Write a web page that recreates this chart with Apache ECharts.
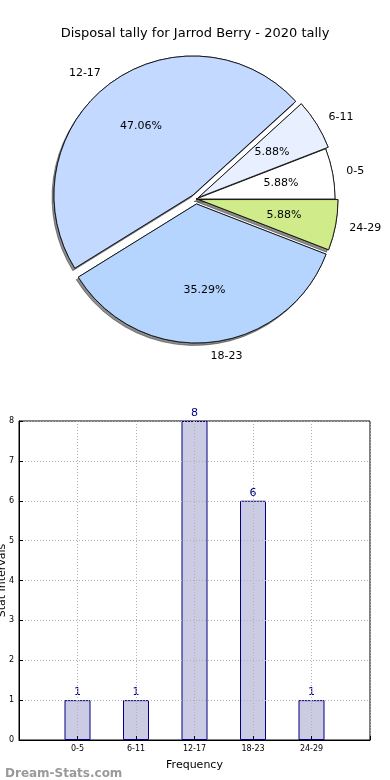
<!DOCTYPE html>
<html><head><meta charset="utf-8">
<script src="https://cdn.jsdelivr.net/npm/echarts@6/dist/echarts.min.js"></script>
<style>html,body{margin:0;padding:0;background:#fff}#c{width:390px;height:780px}</style>
</head><body><div id="c"></div>
<script>
const categories = ['0-5', '6-11', '12-17', '18-23', '24-29'];
const counts = [1, 1, 8, 6, 1];
const sliceColors = ['#ffffff', '#e8f0ff', '#c4d9ff', '#b5d5ff', '#cfeb8a'];
const explode = [0, 3, 5, 5, 3];
const yTicks = [0, 1, 2, 3, 4, 5, 6, 7, 8];
const titleText = 'Disposal tally for Jarrod Berry - 2020 tally';

const FONT = 'DejaVu Sans';
const C = ['196', '199'];
const R = 139;
const total = counts.reduce((a, b) => a + b, 0);

function sliceData(i, visStyle, labelOpt) {
  return counts.map((v, j) => {
    if (j !== i) return { name: categories[j], value: v, itemStyle: { color: 'transparent', borderWidth: 0 }, label: { show: false }, labelLine: { show: false } };
    return { name: categories[j], value: v, selected: explode[i] > 0, itemStyle: visStyle, label: labelOpt, labelLine: { show: false, length: R * 0.1, length2: 0 } };
  });
}
const base = { type: 'pie', center: C, startAngle: 0, clockwise: false, silent: true, animation: false,
  avoidLabelOverlap: false, selectedMode: 'multiple', emphasis: { disabled: true }, minAngle: 0 };
const series = [];
// shadows
categories.forEach((c, i) => {
  series.push(Object.assign({}, base, { z: 1, radius: [0, R], selectedOffset: explode[i],
    data: sliceData(i, { color: sliceColors[i], borderColor: '#000', borderWidth: 0.8, shadowBlur: 0, shadowOffsetX: -2, shadowOffsetY: 2.5, shadowColor: 'rgba(0,0,0,0.45)' }, { show: false }) }));
});
// fills + outside labels
categories.forEach((c, i) => {
  series.push(Object.assign({}, base, { z: 2, radius: [0, R], selectedOffset: explode[i],
    data: sliceData(i, { color: sliceColors[i], borderColor: '#000', borderWidth: 0.8 },
      { show: true, position: 'outside', formatter: '{b}', fontFamily: FONT, fontSize: 11, color: '#000', distanceToLabelLine: 0 }),
    labelLine: { show: false, length: R * 0.1, length2: 0 } }));
});
// inside percentage labels
categories.forEach((c, i) => {
  series.push(Object.assign({}, base, { z: 3, radius: [R * 0.2, R], selectedOffset: explode[i],
    data: sliceData(i, { color: 'transparent', borderWidth: 0 },
      { show: true, position: 'inside', formatter: p => (p.value / total * 100).toFixed(2) + '%', fontFamily: FONT, fontSize: 11, color: '#000' }) }));
});

series.push({
  type: 'bar', xAxisIndex: 0, yAxisIndex: 0, z: 1, animation: false, silent: true, barWidth: 26,
  data: counts.map((v, i) => [i, v]),
  itemStyle: { color: '#cbcbe3', borderColor: '#000080', borderWidth: 1 },
  label: { show: true, position: 'top', distance: 2, color: '#000080', fontFamily: FONT, fontSize: 11, formatter: p => p.value[1] }
});

const chart = echarts.init(document.getElementById('c'), null, { renderer: 'canvas' });
chart.setOption({
  backgroundColor: '#fff',
  animation: false,
  title: [
    { text: titleText, left: 'center', top: 22, textStyle: { fontFamily: FONT, fontSize: 13, fontWeight: 'normal', color: '#000' } },
    { text: 'Dream-Stats.com', left: 0, top: 763, textStyle: { fontFamily: FONT, fontSize: 12, fontWeight: 'bold', color: '#9a9a9a' } }
  ],
  grid: { left: 19, right: 20, top: 421, bottom: 40, show: true, borderColor: '#000', borderWidth: 1, containLabel: false, outerBoundsMode: 'none' },
  xAxis: {
    type: 'value', min: -1, max: 5, interval: 1, z: 3,
    name: 'Frequency', nameLocation: 'middle', nameGap: 20, nameMoveOverlap: false, nameTextStyle: { fontFamily: FONT, fontSize: 11, color: '#000' },
    axisLine: { show: true, onZero: false, lineStyle: { color: '#000' } },
    axisTick: { show: true, inside: true, length: 4, lineStyle: { color: '#000' } },
    axisLabel: { fontFamily: FONT, fontSize: 8, color: '#000', margin: 5, formatter: v => categories[v] || '' },
    splitLine: { show: true, lineStyle: { color: '#b0b0b0', type: [1, 2], width: 1 } }
  },
  yAxis: {
    type: 'value', min: yTicks[0], max: yTicks[yTicks.length - 1], interval: 1, z: 3,
    name: 'Stat Intervals', nameLocation: 'middle', nameGap: 11.5, nameMoveOverlap: false, nameTextStyle: { fontFamily: FONT, fontSize: 11, color: '#000' },
    axisLine: { show: true, onZero: false, lineStyle: { color: '#000' } },
    axisTick: { show: true, inside: true, length: 4, lineStyle: { color: '#000' } },
    axisLabel: { fontFamily: FONT, fontSize: 8, color: '#000', margin: 5 },
    splitLine: { show: true, lineStyle: { color: '#b0b0b0', type: [1, 2], width: 1 } }
  },
  series: series
});
</script></body></html>
